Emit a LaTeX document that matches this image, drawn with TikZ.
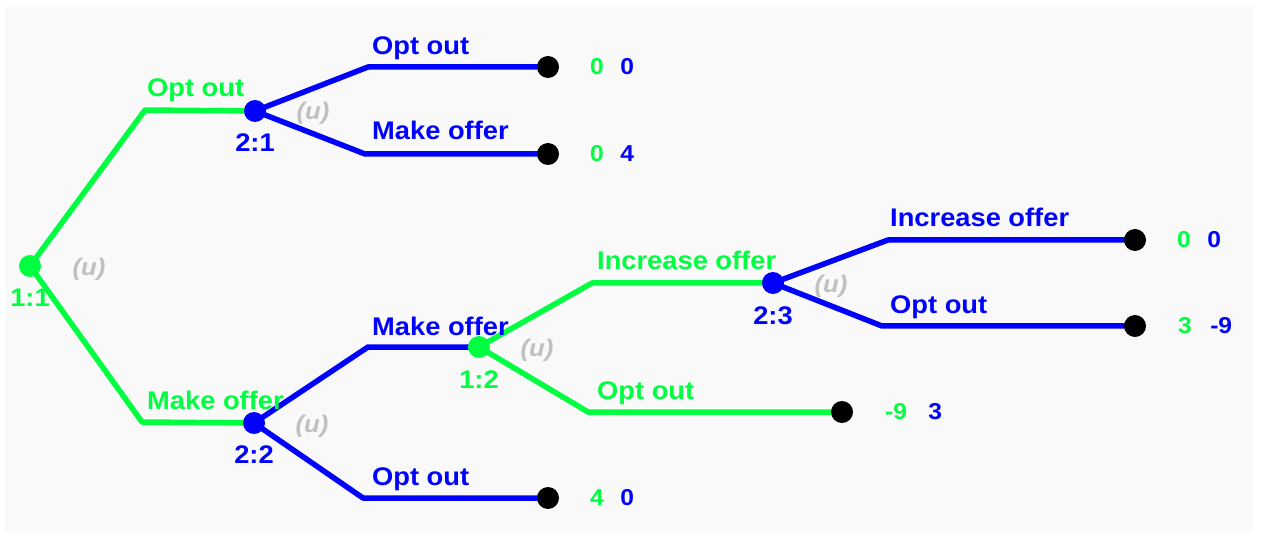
\documentclass[tikz,border=0pt]{standalone}
\usepackage{fontspec}
\newfontfamily\lab[FakeStretch=1.07]{Liberation Sans}
\usetikzlibrary{backgrounds}
\definecolor{pg}{RGB}{0,255,64}
\definecolor{pb}{RGB}{0,0,255}
\definecolor{ug}{RGB}{192,192,192}
\definecolor{panel}{RGB}{249,249,249}
\begin{document}
\begin{tikzpicture}[x=1pt,y=-1pt,
  dot/.style={circle,fill,inner sep=0,minimum size=22pt},
  term/.style={circle,fill=black,inner sep=0,minimum size=22pt},
  gline/.style={draw=pg,line width=5.5pt,line join=round},
  bline/.style={draw=pb,line width=5.5pt,line join=round},
  lbl/.style={font=\lab\bfseries\fontsize{25.5}{30}\selectfont,inner sep=0,anchor=base west},
  nl/.style={font=\lab\bfseries\fontsize{25.5}{30}\selectfont,inner sep=0,anchor=base},
  uu/.style={font=\lab\bfseries\itshape\fontsize{24}{28}\selectfont,text=ug,inner sep=0},
  pay/.style={font=\lab\bfseries\fontsize{23}{28}\selectfont,inner sep=0,anchor=west},
]
\useasboundingbox (0,0) rectangle (1261,537);
% decision nodes
\node[dot,pg] (n11) at (30,266) {};
\node[dot,pb] (n21) at (255,111) {};
\node[dot,pb] (n22) at (254,423) {};
\node[dot,pg] (n12) at (479,347) {};
\node[dot,pb] (n23) at (773,283) {};
% terminals
\node[term] (t1) at (548,67) {};
\node[term] (t2) at (548,154) {};
\node[term] (t3) at (548,498) {};
\node[term] (t4) at (842,412) {};
\node[term] (t5) at (1135,240) {};
\node[term] (t6) at (1135,326) {};
% bends
\coordinate (b11u) at (145,110);
\coordinate (b11d) at (142,422);
\coordinate (b21u) at (368,67);
\coordinate (b21d) at (365,154);
\coordinate (b22u) at (368,347);
\coordinate (b22d) at (363,498);
\coordinate (b12u) at (592,283);
\coordinate (b12d) at (588,412);
\coordinate (b23u) at (888,240);
\coordinate (b23d) at (882,326);
\begin{scope}[on background layer]
\fill[panel] (5,7) rectangle (1253,531);
\draw[gline] (n11.center) -- (b11u) -- (n21.center);
\draw[gline] (n11.center) -- (b11d) -- (n22.center);
\draw[bline] (n21.center) -- (b21u) -- (t1.center);
\draw[bline] (n21.center) -- (b21d) -- (t2.center);
\draw[bline] (n22.center) -- (b22u) -- (n12.center);
\draw[bline] (n22.center) -- (b22d) -- (t3.center);
\draw[gline] (n12.center) -- (b12u) -- (n23.center);
\draw[gline] (n12.center) -- (b12d) -- (t4.center);
\draw[bline] (n23.center) -- (b23u) -- (t5.center);
\draw[bline] (n23.center) -- (b23d) -- (t6.center);
\end{scope}
% branch labels
\node[lbl,text=pg] (l1) at (147,97) {Opt out};
\node[lbl,text=pg] (l2) at (147,409) {Make offer};
\node[lbl,text=pb] (l3) at (372,55) {Opt out};
\node[lbl,text=pb] (l4) at (372,140) {Make offer};
\node[lbl,text=pb] (l5) at (372,335) {Make offer};
\node[lbl,text=pb] (l6) at (372,485) {Opt out};
\node[lbl,text=pg] (l7) at (597,270) {Increase offer};
\node[lbl,text=pg] (l8) at (597,399) {Opt out};
\node[lbl,text=pb] (l9) at (890,227) {Increase offer};
\node[lbl,text=pb] (l10) at (890,313) {Opt out};
% node labels
\node[nl,text=pg] (ln11) at ([yshift=-41pt]n11) {1:1};
\node[nl,text=pb] (ln21) at ([yshift=-41pt]n21) {2:1};
\node[nl,text=pb] (ln22) at ([yshift=-40pt]n22) {2:2};
\node[nl,text=pg] (ln12) at ([yshift=-41pt]n12) {1:2};
\node[nl,text=pb] (ln23) at ([yshift=-41pt]n23) {2:3};
% (u) labels
\node[uu] (u11) at (89,269) {(u)};
\node[uu] (u21) at (313,113) {(u)};
\node[uu] (u22) at (312,426) {(u)};
\node[uu] (u12) at (537,350) {(u)};
\node[uu] (u23) at (831,286) {(u)};
% payoffs
\node[pay,text=pg] (p1a) at ([xshift=42pt]t1) {0};
\node[pay,text=pb] (p1b) at ([xshift=16pt]p1a.east) {0};
\node[pay,text=pg] (p2a) at ([xshift=42pt]t2) {0};
\node[pay,text=pb] (p2b) at ([xshift=16pt]p2a.east) {4};
\node[pay,text=pg] (p3a) at ([xshift=42pt]t3) {4};
\node[pay,text=pb] (p3b) at ([xshift=16pt]p3a.east) {0};
\node[pay,text=pg] (p4a) at ([xshift=43pt]t4) {-9};
\node[pay,text=pb] (p4b) at ([xshift=21pt]p4a.east) {3};
\node[pay,text=pg] (p5a) at ([xshift=42pt]t5) {0};
\node[pay,text=pb] (p5b) at ([xshift=16pt]p5a.east) {0};
\node[pay,text=pg] (p6a) at ([xshift=43pt]t6) {3};
\node[pay,text=pb] (p6b) at ([xshift=18pt]p6a.east) {-9};
\end{tikzpicture}
\end{document}
